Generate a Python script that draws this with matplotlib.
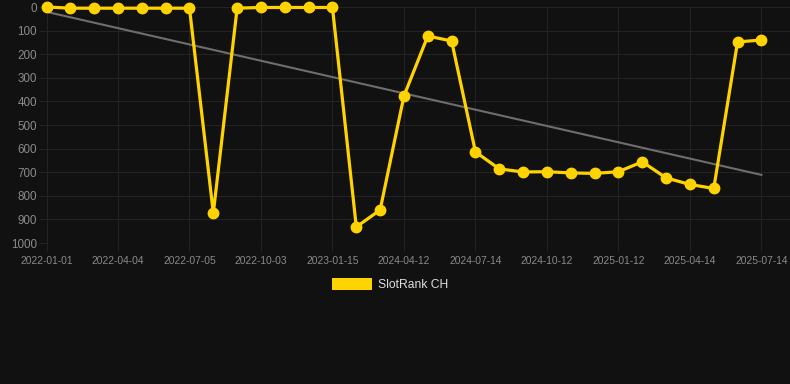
import matplotlib
matplotlib.use('Agg')
import matplotlib.pyplot as plt
from matplotlib.patches import Rectangle
import numpy as np

plt.rcParams['font.family'] = ['Liberation Sans', 'DejaVu Sans']

BG = '#111111'
GRID = '#232323'
TICK = '#8a8a8a'
YELLOW = '#ffd300'
TREND = '#6e6e6e'

# one rank per sample, category axis (every third sample labelled)
ranks = [0, 5, 5, 5, 5, 5, 5, 873, 5, 2, 2, 2, 2, 932, 860, 377, 123, 144,
         614, 686, 699, 698, 703, 705, 698, 656, 724, 752, 769, 148, 140]
tick_labels = ['2022-01-01', '2022-04-04', '2022-07-05', '2022-10-03',
               '2023-01-15', '2024-04-12', '2024-07-14', '2024-10-12',
               '2025-01-12', '2025-04-14', '2025-07-14']
series_name = 'SlotRank CH'

x = np.arange(len(ranks))
slope, icept = np.polyfit(x, ranks, 1)

W, H = 790, 384
fig = plt.figure(figsize=(W / 100, H / 100), dpi=100, facecolor=BG)
ax = fig.add_axes([46.5 / W, 1 - 243 / H, (W - 46.5) / W, (243 - 7) / H])
ax.set_facecolor(BG)

ax.plot(x[[0, -1]], icept + slope * x[[0, -1]], color=TREND, lw=1.5,
        zorder=2, clip_on=False)
ax.plot(x, ranks, color=YELLOW, lw=2.3, marker='o', markersize=7.5,
        solid_joinstyle='miter', zorder=3, clip_on=False)

ax.set_xlim(0, 31.2)
ax.set_ylim(1000, 0)
ax.set_yticks(range(0, 1001, 100))
ax.set_xticks(x[::3], tick_labels)
ax.tick_params(axis='y', labelsize=8.4, colors=TICK, length=6, color=GRID,
               pad=1)
ax.tick_params(axis='x', labelsize=7.4, colors=TICK, length=6, color=GRID,
               pad=3)
ax.grid(True, color=GRID, lw=0.8)
ax.set_axisbelow(True)
for s in ax.spines.values():
    s.set_visible(False)

fig.add_artist(Rectangle((332 / W, 1 - 290 / H), 40 / W, 12 / H,
                         transform=fig.transFigure, color=YELLOW, lw=0))
fig.text(378 / W, 1 - 284.5 / H, series_name, color='#dddddd', fontsize=8.7,
         va='center', ha='left')

fig.savefig('out.png', dpi=100, facecolor=BG)
